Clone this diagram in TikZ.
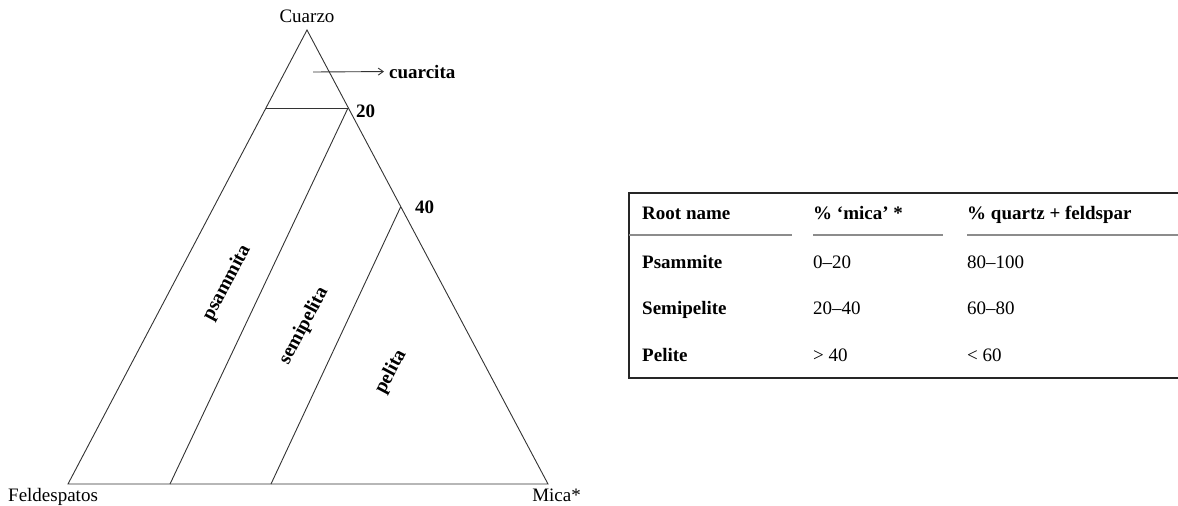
\documentclass[tikz,border=0pt]{standalone}
\usepackage{fontspec}
\setmainfont{Liberation Serif}
\usetikzlibrary{arrows.meta}
\tikzset{
  edge/.style={draw=black!80, line width=0.9pt},
  lbl/.style={inner sep=0pt, font=\fontsize{19}{23}\selectfont},
  blbl/.style={inner sep=0pt, font=\fontsize{19}{23}\selectfont\bfseries},
  field/.style={inner sep=0pt, font=\fontsize{19.5}{23}\selectfont\bfseries, rotate=62},
  rule/.style={draw=black!45, line width=1.2pt},
  frame/.style={draw=black!85, line width=1.4pt},
}
\begin{document}
\begin{tikzpicture}[x=1pt,y=-1pt]
\useasboundingbox (0,0) rectangle (1178,506);

% ternary triangle
\coordinate (Q) at (307,30);
\coordinate (F) at (68,484);
\coordinate (M) at (548,484);
\draw[edge] (Q) -- (F) -- (M) -- cycle;

% field boundaries
\coordinate (q20L) at (265.7,108);
\coordinate (q20R) at (348,108);
\coordinate (s20) at (170,484);
\coordinate (q40) at (400.6,207);
\coordinate (s40) at (271,484);
\draw[edge] (q20L) -- (q20R);
\draw[edge] (q20R) -- (s20);
\draw[edge] (q40) -- (s40);

% quartzite arrow
\coordinate (arrA) at (313,72);
\node[blbl, anchor=base west] (cuarcita) at (389,78) {cuarcita};
\draw[edge, shorten >=5pt, -{Straight Barb[length=5pt,width=7pt]}] (arrA) -- (cuarcita.west);

% apex labels and percentages
\node[lbl, anchor=base] (cuarzo) at (307,22) {Cuarzo};
\node[lbl, anchor=base west] (feld) at (8,501) {Feldespatos};
\node[lbl, anchor=base east] (mica) at (581,501) {Mica*};
\node[blbl, anchor=base west] (p20) at (356,117) {20};
\node[blbl, anchor=base west] (p40) at (415,213) {40};

% field names
\node[field] (psam) at (227,283) {psammita};
\node[field] (semi) at (304,326) {semipelita};
\node[field] (peli) at (391,372) {pelita};

% classification table
\draw[frame] (1180,193) -- (629,193) -- (629,378) -- (1180,378);
\draw[rule] (629,235) -- (792,235);
\draw[rule] (813,235) -- (943,235);
\draw[rule] (967,235) -- (1180,235);

\node[blbl, anchor=base west] (h1) at (642,219) {Root name};
\node[blbl, anchor=base west] (h2) at (813,219) {\% ‘mica’ *};
\node[blbl, anchor=base west] (h3) at (967,219) {\% quartz + feldspar};

\node[blbl, anchor=base west] (r1a) at (642,268) {Psammite};
\node[lbl, anchor=base west] (r1b) at (813,268) {0–20};
\node[lbl, anchor=base west] (r1c) at (967,268) {80–100};

\node[blbl, anchor=base west] (r2a) at (642,314) {Semipelite};
\node[lbl, anchor=base west] (r2b) at (813,314) {20–40};
\node[lbl, anchor=base west] (r2c) at (967,314) {60–80};

\node[blbl, anchor=base west] (r3a) at (642,361) {Pelite};
\node[lbl, anchor=base west] (r3b) at (813,361) {> 40};
\node[lbl, anchor=base west] (r3c) at (967,361) {< 60};
\end{tikzpicture}
\end{document}
